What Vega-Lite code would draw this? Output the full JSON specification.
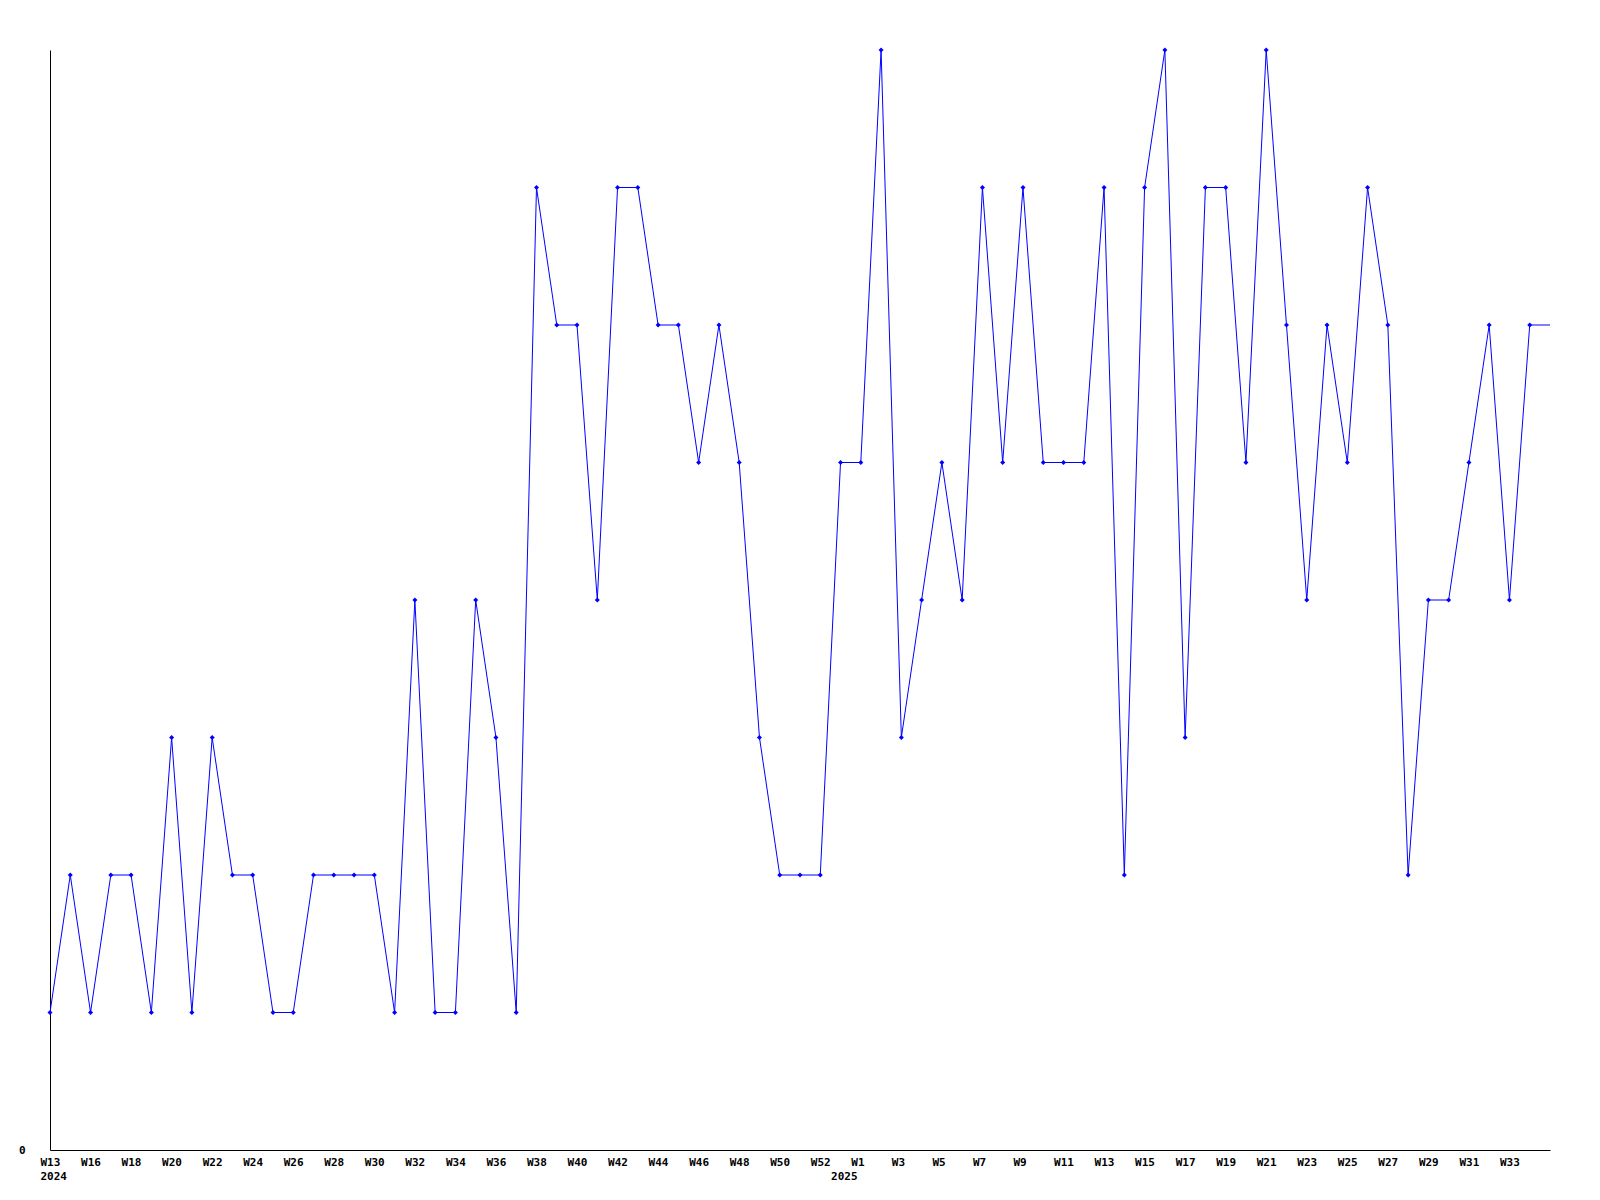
{
  "$schema": "https://vega.github.io/schema/vega-lite/v6.json",
  "width": 1500,
  "height": 1100,
  "autosize": {"type": "none"},
  "padding": {"left": 50, "top": 50, "right": 50, "bottom": 50},
  "background": "white",
  "config": {"view": {"stroke": null}},
  "data": {"values": [
    {"i":0,"v":1},{"i":1,"v":2},{"i":2,"v":1},{"i":3,"v":2},{"i":4,"v":2},
    {"i":5,"v":1},{"i":6,"v":3},{"i":7,"v":1},{"i":8,"v":3},{"i":9,"v":2},
    {"i":10,"v":2},{"i":11,"v":1},{"i":12,"v":1},{"i":13,"v":2},{"i":14,"v":2},
    {"i":15,"v":2},{"i":16,"v":2},{"i":17,"v":1},{"i":18,"v":4},{"i":19,"v":1},
    {"i":20,"v":1},{"i":21,"v":4},{"i":22,"v":3},{"i":23,"v":1},{"i":24,"v":7},
    {"i":25,"v":6},{"i":26,"v":6},{"i":27,"v":4},{"i":28,"v":7},{"i":29,"v":7},
    {"i":30,"v":6},{"i":31,"v":6},{"i":32,"v":5},{"i":33,"v":6},{"i":34,"v":5},
    {"i":35,"v":3},{"i":36,"v":2},{"i":37,"v":2},{"i":38,"v":2},{"i":39,"v":5},
    {"i":40,"v":5},{"i":41,"v":8},{"i":42,"v":3},{"i":43,"v":4},{"i":44,"v":5},
    {"i":45,"v":4},{"i":46,"v":7},{"i":47,"v":5},{"i":48,"v":7},{"i":49,"v":5},
    {"i":50,"v":5},{"i":51,"v":5},{"i":52,"v":7},{"i":53,"v":2},{"i":54,"v":7},
    {"i":55,"v":8},{"i":56,"v":3},{"i":57,"v":7},{"i":58,"v":7},{"i":59,"v":5},
    {"i":60,"v":8},{"i":61,"v":6},{"i":62,"v":4},{"i":63,"v":6},{"i":64,"v":5},
    {"i":65,"v":7},{"i":66,"v":6},{"i":67,"v":2},{"i":68,"v":4},{"i":69,"v":4},
    {"i":70,"v":5},{"i":71,"v":6},{"i":72,"v":4},{"i":73,"v":6},{"i":74,"v":6}
  ]},
  "encoding": {
    "x": {
      "field": "i", "type": "quantitative",
      "scale": {"domain": [0, 74], "nice": false, "zero": false},
      "axis": {
        "title": null,
        "grid": false,
        "ticks": false,
        "tickSize": 0,
        "domainColor": "black",
        "domainWidth": 1,
        "values": [0,2,4,6,8,10,12,14,16,18,20,22,24,26,28,30,32,34,36,38,39,40,42,44,46,48,50,52,54,56,58,60,62,64,66,68,70,72],
        "labelExpr": "datum.value == 0 ? ['W13', '2024'] : datum.value == 39 ? ['', '2025'] : datum.value < 39 ? 'W' + (datum.value + 14) : 'W' + (datum.value - 39)",
        "labelAlign": "left",
        "labelOffset": -10,
        "labelBaseline": "top",
        "labelPadding": 6,
        "labelLineHeight": 14,
        "labelFont": "DejaVu Sans Mono",
        "labelFontWeight": "bold",
        "labelFontSize": 11,
        "labelColor": "black",
        "labelOverlap": false,
        "labelFlush": false,
        "labelBound": false
      }
    },
    "y": {
      "field": "v", "type": "quantitative",
      "scale": {"domain": [0, 8], "nice": false, "zero": true},
      "axis": {
        "title": null,
        "grid": false,
        "ticks": false,
        "tickSize": 0,
        "domainColor": "black",
        "domainWidth": 1,
        "values": [0],
        "labelPadding": 25,
        "labelFont": "DejaVu Sans Mono",
        "labelFontWeight": "bold",
        "labelFontSize": 11,
        "labelColor": "black",
        "labelFlush": false
      }
    }
  },
  "layer": [
    {"mark": {"type": "line", "color": "#0000ff", "strokeWidth": 1, "clip": true}},
    {
      "transform": [{"filter": "datum.i < 74"}],
      "mark": {"type": "point", "shape": "diamond", "filled": true, "color": "#0000ff", "size": 25, "opacity": 1}
    }
  ]
}
